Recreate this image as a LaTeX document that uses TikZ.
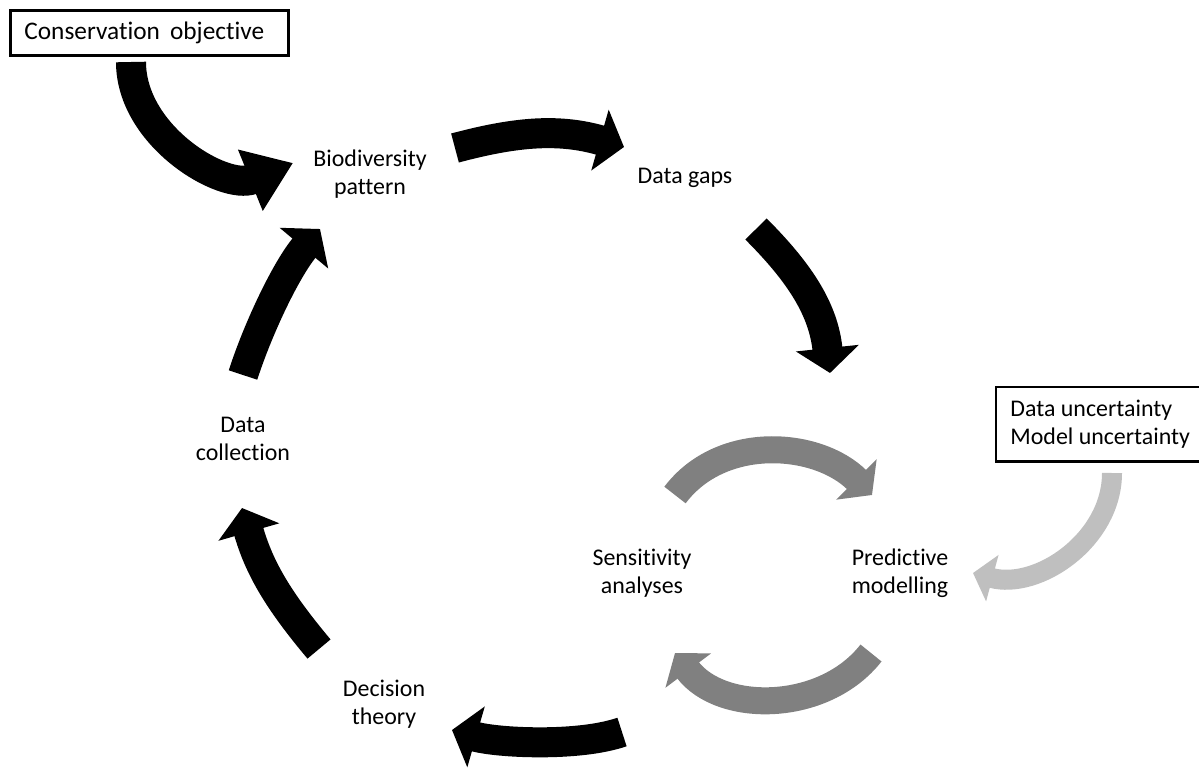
\documentclass[tikz,border=0pt]{standalone}
\usepackage{fontspec}
\setmainfont{Carlito}[Ligatures=NoCommon]
\usepackage{tikz}
\usetikzlibrary{arrows.meta,positioning}
\definecolor{loopgray}{RGB}{128,128,128}
\definecolor{inputgray}{RGB}{191,191,191}
\newcommand{\stagefont}{\fontsize{17}{20}\selectfont}
\tikzset{
    stage/.style={align=center, font=\stagefont, inner sep=0pt},
    notebox/.style={line width=2pt, align=left, anchor=north west, inner ysep=0pt},
    blackarrow/.style={draw=black, line width=0.75cm, -{Triangle[width=1.55cm,length=0.625cm]}},
    loopgrayarrow/.style={draw=loopgray, line width=0.675cm, -{Triangle[width=1.4cm,length=0.55cm]}},
    inputarrow/.style={draw=inputgray, line width=0.5cm, -{Triangle[width=1.175cm,length=0.5cm]}},
}

\begin{document}
\begin{tikzpicture}[x=0.025cm, y=0.025cm]
    \useasboundingbox (0,0) rectangle (1199,-771);
    \coordinate (rightedge) at (1199,0);

    % boxes
    \node[notebox, draw, font=\fontsize{18}{21}\selectfont, text width=6.25cm, inner xsep=0.35cm,
          minimum height=1.125cm] (cons) at (9,-9) {Conservation\hspace{0.4em}objective};
    \node[notebox, font=\stagefont, inner xsep=0.325cm,
          minimum height=1.8cm] (unc) at (996,-387) {Data uncertainty\\Model uncertainty};
    % box runs off the right edge
    \draw[line width=2pt] (rightedge |- unc.north) -- (unc.north west) -- (unc.south west) -- (rightedge |- unc.south);

    % stages of the cycle
    \node[stage] (bio)  at (370,-174) {Biodiversity\\pattern};
    \node[stage] (gaps) at (685,-178) {Data gaps};
    \node[stage] (pred) at (900,-573) {Predictive\\modelling};
    \node[stage] (sens) at (642,-573) {Sensitivity\\analyses};
    \node[stage] (dec)  at (384,-704) {Decision\\theory};
    \node[stage] (coll) at (243,-439) {Data\\collection};

    % arrow ends
    \coordinate (consS) at (131,-62);   \coordinate (consE) at (293,-163);
    \coordinate (bioS)  at (455,-148);  \coordinate (bioE)  at (624,-147);
    \coordinate (gapsS) at (756,-229);  \coordinate (gapsE) at (830,-373);
    \coordinate (predS) at (622,-732);  \coordinate (predE) at (452,-730);
    \coordinate (decS)  at (319,-649);  \coordinate (decE)  at (242,-508);
    \coordinate (collS) at (243,-375);  \coordinate (collE) at (320,-229);
    \coordinate (sensS) at (675,-495);  \coordinate (sensE) at (872,-495);
    \coordinate (backS) at (871,-653);  \coordinate (backE) at (675,-653);
    \coordinate (uncS)  at (1112,-473); \coordinate (uncE)  at (973,-573);

    % main cycle
    \draw[blackarrow, -{Triangle[width=1.575cm,length=1.15cm]}] (consS) to[out=-90, in=202] (consE);
    \draw[blackarrow] (bioS) to[out=15, in=164] (bioE);
    \draw[blackarrow] (gapsS) to[out=-45, in=96] (gapsE);
    \draw[blackarrow] (predS) to[out=199, in=-16, looseness=0.7] (predE);
    \draw[blackarrow] (decS) to[out=130, in=-74] (decE);
    \draw[blackarrow] (collS) to[out=72, in=230, looseness=0.8] (collE);

    % modelling loop
    \draw[loopgrayarrow] (sensS) to[out=53, in=135] (sensE);
    \draw[loopgrayarrow] (backS) to[out=232, in=-53] (backE);
    \draw[inputarrow] (uncS) to[out=-90, in=-15] (uncE);
\end{tikzpicture}
\end{document}
